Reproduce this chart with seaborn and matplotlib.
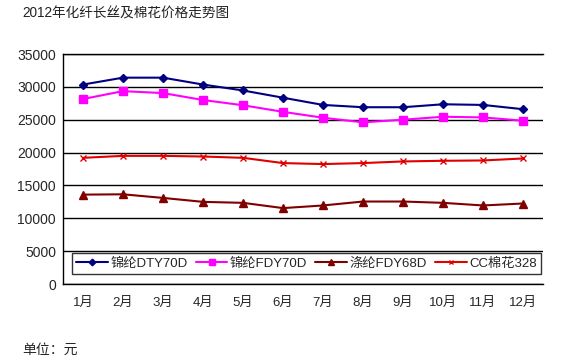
import matplotlib
matplotlib.use("Agg")
import matplotlib.pyplot as plt
import seaborn as sns
import pandas as pd

# data
months = ["1月", "2月", "3月", "4月", "5月", "6月", "7月", "8月", "9月", "10月", "11月", "12月"]
nylon_dty = [30350, 31400, 31400, 30350, 29450, 28350, 27250, 26900, 26900, 27350, 27250, 26600]
nylon_fdy = [28150, 29350, 29050, 28000, 27200, 26200, 25300, 24600, 25000, 25450, 25350, 24850]
polyester_fdy = [13600, 13650, 13100, 12500, 12350, 11550, 11950, 12550, 12550, 12350, 11950, 12250]
cotton = [19200, 19500, 19500, 19400, 19200, 18400, 18250, 18400, 18650, 18750, 18800, 19100]

series_names = ["锦纶DTY70D", "锦纶FDY70D", "涤纶FDY68D", "CC棉花328"]
series_values = [nylon_dty, nylon_fdy, polyester_fdy, cotton]
colors = ["#000080", "#FF00FF", "#800000", "#E00000"]
markers = ["D", "s", "^", "x"]
msizes = [4.5, 6, 5.5, 4]

sns.set_style("white")
plt.rcParams["font.family"] = ["Liberation Sans", "Noto Sans CJK SC", "DejaVu Sans"]

fig = plt.figure(figsize=(5.84, 3.63), dpi=100)
ax = fig.add_axes([63 / 584, 1 - 284 / 363, 480 / 584, 230 / 363])

pos = list(range(len(months)))
for name, vals, c, m, ms in zip(series_names, series_values, colors, markers, msizes):
    df = pd.DataFrame({"pos": pos, "value": vals})
    sns.lineplot(data=df, x="pos", y="value", ax=ax, color=c, marker=m,
                 markersize=ms, markeredgecolor=c, markeredgewidth=1,
                 linewidth=1.5, label=name)

ax.set_xlim(-0.5, 11.5)
ax.set_ylim(0, 35000)
ax.set_yticks(range(0, 35001, 5000))
ax.set_yticklabels([str(v) for v in range(0, 35001, 5000)], fontsize=10)
ax.set_xticks(pos)
ax.set_xticklabels(months, fontsize=9.5)
ax.set_xticks([p + 0.5 for p in pos[:-1]], minor=True)
ax.tick_params(axis="x", which="major", length=0, pad=9)
ax.tick_params(axis="x", which="minor", length=4, direction="in", color="black")
ax.tick_params(axis="y", length=0, pad=5)
ax.set_xlabel("")
ax.set_ylabel("")

ax.yaxis.grid(True, color="black", linewidth=1)
ax.set_axisbelow(True)
for s in ["left", "bottom", "top"]:
    ax.spines[s].set_visible(True)
    ax.spines[s].set_color("black")
    ax.spines[s].set_linewidth(1)
ax.spines["right"].set_visible(False)

leg = ax.legend(loc="lower left", bbox_to_anchor=(0.019, 0.045, 0.977, 0.112),
                mode="expand", ncol=4, fontsize=9.5, frameon=True, fancybox=False,
                handlelength=2.4, handletextpad=0.2, columnspacing=0.6,
                borderpad=0.3, borderaxespad=0, markerscale=0.75)
leg.get_frame().set_edgecolor("black")
leg.get_frame().set_linewidth(1)

fig.text(22 / 584, 1 - 14 / 363, "2012年化纤长丝及棉花价格走势图", fontsize=9.8,
         va="center", ha="left", color="#222222")
fig.text(22 / 584, 1 - 350 / 363, "单位：元", fontsize=10, va="center", ha="left")

fig.savefig("out.png", dpi=100)
